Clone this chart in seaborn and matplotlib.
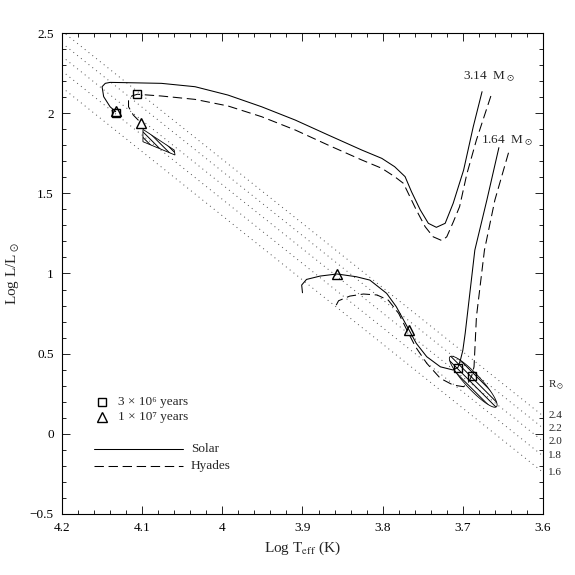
import numpy as np
import pandas as pd
import seaborn as sns
import matplotlib
matplotlib.use("Agg")
import matplotlib.pyplot as plt

# 3.14 Msun tracks (Hayashi top -> Henyey -> ZAMS)
t314_solar = [3.676, 3.687, 3.699, 3.712, 3.722, 3.733, 3.743, 3.753, 3.764, 3.772, 3.785, 3.801, 3.826,
              3.868, 3.909, 3.951, 3.993, 4.034, 4.076, 4.117, 4.140, 4.146, 4.150, 4.148, 4.140, 4.133]
l314_solar = [2.134, 1.915, 1.645, 1.438, 1.313, 1.288, 1.313, 1.396, 1.510, 1.604, 1.666, 1.718, 1.770,
              1.864, 1.957, 2.040, 2.113, 2.165, 2.186, 2.190, 2.192, 2.186, 2.165, 2.103, 2.040, 2.009]
t314_hyades = [3.665, 3.683, 3.695, 3.704, 3.712, 3.720, 3.726, 3.737, 3.747, 3.758, 3.774, 3.785, 3.801,
               3.826, 3.868, 3.909, 3.951, 3.993, 4.034, 4.076, 4.106, 4.113, 4.117, 4.117, 4.111, 4.101]
l314_hyades = [2.107, 1.833, 1.620, 1.417, 1.320, 1.229, 1.205, 1.229, 1.292, 1.396, 1.562, 1.604, 1.656,
               1.708, 1.801, 1.895, 1.978, 2.045, 2.086, 2.107, 2.118, 2.107, 2.082, 2.040, 1.988, 1.937]

# 1.64 Msun tracks
t164_solar = [3.655, 3.670, 3.685, 3.697, 3.700, 3.703, 3.706, 3.712, 3.728, 3.745, 3.758, 3.767,
              3.783, 3.795, 3.816, 3.833, 3.857, 3.878, 3.895, 3.901, 3.900]
l164_solar = [1.785, 1.458, 1.146, 0.628, 0.520, 0.460, 0.415, 0.398, 0.418, 0.481, 0.564, 0.647,
              0.793, 0.876, 0.959, 0.980, 0.997, 0.984, 0.963, 0.928, 0.880]
t164_hyades = [3.643, 3.660, 3.673, 3.683, 3.686, 3.689, 3.693, 3.699, 3.712, 3.728, 3.745, 3.759,
               3.770, 3.780, 3.793, 3.807, 3.824, 3.841, 3.855, 3.860]
l164_hyades = [1.753, 1.458, 1.146, 0.730, 0.418, 0.360, 0.320, 0.294, 0.304, 0.346, 0.440, 0.543,
               0.650, 0.751, 0.834, 0.866, 0.872, 0.859, 0.830, 0.783]

# age markers
sq_t = [4.106, 4.133, 3.706, 3.689]
sq_l = [2.118, 2.004, 0.413, 0.360]
tri_t = [4.133, 4.101, 3.857, 3.767]
tri_l = [2.012, 1.937, 0.997, 0.650]

# constant radius lines (R / Rsun), logL at logT = 4.2 and 3.6
radius_labels = ["2.4", "2.2", "2.0", "1.8", "1.6"]
rad_l_left = [2.512, 2.437, 2.354, 2.263, 2.160]
rad_l_right = [0.112, 0.036, -0.046, -0.138, -0.240]

# observed error boxes
box_t = [4.099, 4.099, 4.059, 4.060]
box_l = [1.899, 1.822, 1.739, 1.770]
ell_center = (3.687, 0.325)
ell_major = (0.029, 0.156)
ell_minor = (-0.0068, 0.032)

sns.set_theme(style="ticks")
plt.rcParams['font.family'] = ['Liberation Serif', 'DejaVu Serif']
plt.rcParams['mathtext.fontset'] = 'stix'
plt.rcParams['hatch.color'] = 'black'
plt.rcParams['hatch.linewidth'] = 0.7

fig = plt.figure(figsize=(5.75, 5.75), dpi=100)
ax = fig.add_axes([0.1078, 0.1061, 0.8365, 0.8365])

for i in range(len(radius_labels)):
    sns.lineplot(x=[4.2, 3.6], y=[rad_l_left[i], rad_l_right[i]], ax=ax, color='0.3',
                 linewidth=0.7, linestyle=(0, (1, 4)), sort=False, estimator=None)
    ax.text(3.5935, rad_l_right[i], radius_labels[i], fontsize=8, ha='left', va='center', clip_on=False)
ax.text(3.5935, 0.30, r"R$_\odot$", fontsize=8, ha='left', va='center', clip_on=False)

tracks = [(t314_solar, l314_solar, '-'), (t314_hyades, l314_hyades, (0, (9, 4.5))),
          (t164_solar, l164_solar, '-'), (t164_hyades, l164_hyades, (0, (9, 4.5)))]
for tt, ll, ls in tracks:
    df = pd.DataFrame({'logT': tt, 'logL': ll})
    sns.lineplot(data=df, x='logT', y='logL', ax=ax, color='black', linewidth=0.75,
                 linestyle=ls, sort=False, estimator=None)

# hatched error regions
ax.fill(box_t, box_l, facecolor='none', edgecolor='black', linewidth=0.6, hatch='\\\\\\\\\\\\', zorder=3)
tt = np.linspace(0, 2 * np.pi, 100)
ex = ell_center[0] + ell_major[0] * np.cos(tt) + ell_minor[0] * np.sin(tt)
ey = ell_center[1] + ell_major[1] * np.cos(tt) + ell_minor[1] * np.sin(tt)
ax.fill(ex, ey, facecolor='none', edgecolor='black', linewidth=0.6, hatch='\\\\\\\\\\\\', zorder=3)

ax.plot(sq_t, sq_l, linestyle='none', marker='s', markersize=5.5, markerfacecolor='none',
        markeredgecolor='black', markeredgewidth=1.0, zorder=4)
ax.plot(tri_t, tri_l, linestyle='none', marker='^', markersize=6.5, markerfacecolor='none',
        markeredgecolor='black', markeredgewidth=1.0, zorder=4)

ax.text(3.700, 2.225, r"3.14  M$_\odot$", fontsize=9.5, ha='left', va='center')
ax.text(3.677, 1.828, r"1.64  M$_\odot$", fontsize=9.5, ha='left', va='center')

# legend block
tr = ax.transAxes
ax.plot([0.083], [0.2335], transform=tr, linestyle='none', marker='s', markersize=5.5,
        markerfacecolor='none', markeredgecolor='black', markeredgewidth=1.0)
ax.plot([0.083], [0.2023], transform=tr, linestyle='none', marker='^', markersize=6.5,
        markerfacecolor='none', markeredgecolor='black', markeredgewidth=1.0)
ax.text(0.1164, 0.2335, "3 \u00d7 10\u2076 years", transform=tr, fontsize=9.5, va='center')
ax.text(0.1164, 0.2023, "1 \u00d7 10\u2077 years", transform=tr, fontsize=9.5, va='center')
ax.plot([0.0665, 0.2516], [0.1345, 0.1345], transform=tr, color='black', linewidth=0.75)
ax.plot([0.0665, 0.2516], [0.1004, 0.1004], transform=tr, color='black', linewidth=0.75,
        linestyle=(0, (9, 4.5)))
ax.text(0.2676, 0.1345, "Solar", transform=tr, fontsize=9.5, va='center')
ax.text(0.2676, 0.1004, "Hyades", transform=tr, fontsize=9.5, va='center')

ax.set_xlim(4.2, 3.6)
ax.set_ylim(-0.5, 2.5)
ax.set_xticks([4.2, 4.1, 4.0, 3.9, 3.8, 3.7, 3.6])
ax.set_xticklabels(["4.2", "4.1", "4", "3.9", "3.8", "3.7", "3.6"])
ax.set_yticks([-0.5, 0, 0.5, 1, 1.5, 2, 2.5])
ax.set_yticklabels(["\u22120.5", "0", "0.5", "1", "1.5", "2", "2.5"])
ax.set_xticks(np.arange(3.6, 4.2001, 0.02), minor=True)
ax.set_yticks(np.arange(-0.5, 2.5001, 0.1), minor=True)
ax.tick_params(which='both', direction='in', top=True, right=True, width=0.6, colors='black',
               labelsize=9.5, pad=6)
ax.tick_params(which='major', length=6)
ax.tick_params(which='minor', length=3)
for sp in ax.spines.values():
    sp.set_linewidth(0.8)
    sp.set_color('black')
ax.set_xlabel(r"Log T$_{\rm eff}$ (K)", fontsize=11, labelpad=4)
ax.set_ylabel(r"Log L/L$_\odot$", fontsize=11, labelpad=6)

fig.savefig("out.png", dpi=100)
